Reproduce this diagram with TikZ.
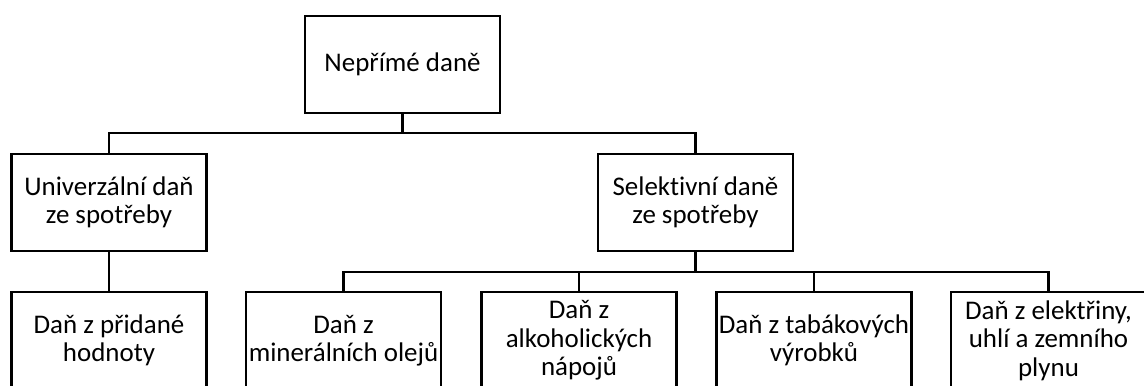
\documentclass[tikz,border=0pt]{standalone}
\usepackage{fontspec}
\setmainfont{Carlito}[Ligatures=NoCommon]
\begin{document}
\begin{tikzpicture}[x=0.75pt,y=-0.75pt,
  box/.style={draw=black,line width=2.1pt,fill=white,rectangle,inner sep=0pt,
    minimum width=146.25pt,minimum height=72.75pt,align=center,
    font=\fontsize{20.2}{21.4}\selectfont},
  link/.style={draw=black,line width=2.1pt}]
  % canvas
  \useasboundingbox (0,0) rectangle (1144,385);
  \clip (0,0) rectangle (1144,385);
  \fill[white] (0,0) rectangle (1144,385);

  % top level
  \node[box] (root) at (402.5,64.5) {Nepřímé daně};

  % second level
  \node[box] (uni) at (109,202.5) {Univerzální daň\\ze spotřeby};
  \node[box] (sel) at (695.5,202.5) {Selektivní daně\\ze spotřeby};

  % third level
  \node[box] (dph) at (109,340.5) {Daň z přidané\\hodnoty};
  \node[box] (oil) at (343.5,340.5) {Daň z\\minerálních olejů};
  \node[box] (alc) at (579,340.5) {Daň z\\alkoholických\\nápojů};
  \node[box] (tab) at (814,340.5) {Daň z tabákových\\výrobků};
  \node[box] (ene) at (1048.5,340.5) {Daň z elektřiny,\\uhlí a zemního\\plynu};

  % junctions
  \coordinate (j1) at (402.5,133);
  \coordinate (j2) at (695.5,272);

  % connectors
  \draw[link] (root.south) -- (j1);
  \draw[link] (uni.north) |- (j1) -| (sel.north);
  \draw[link] (uni.south) -- (dph.north);
  \draw[link] (sel.south) -- (j2);
  \draw[link] (oil.north) |- (j2) -| (ene.north);
  \draw[link] (alc.north) -- (alc.north |- j2);
  \draw[link] (tab.north) -- (tab.north |- j2);
\end{tikzpicture}
\end{document}
